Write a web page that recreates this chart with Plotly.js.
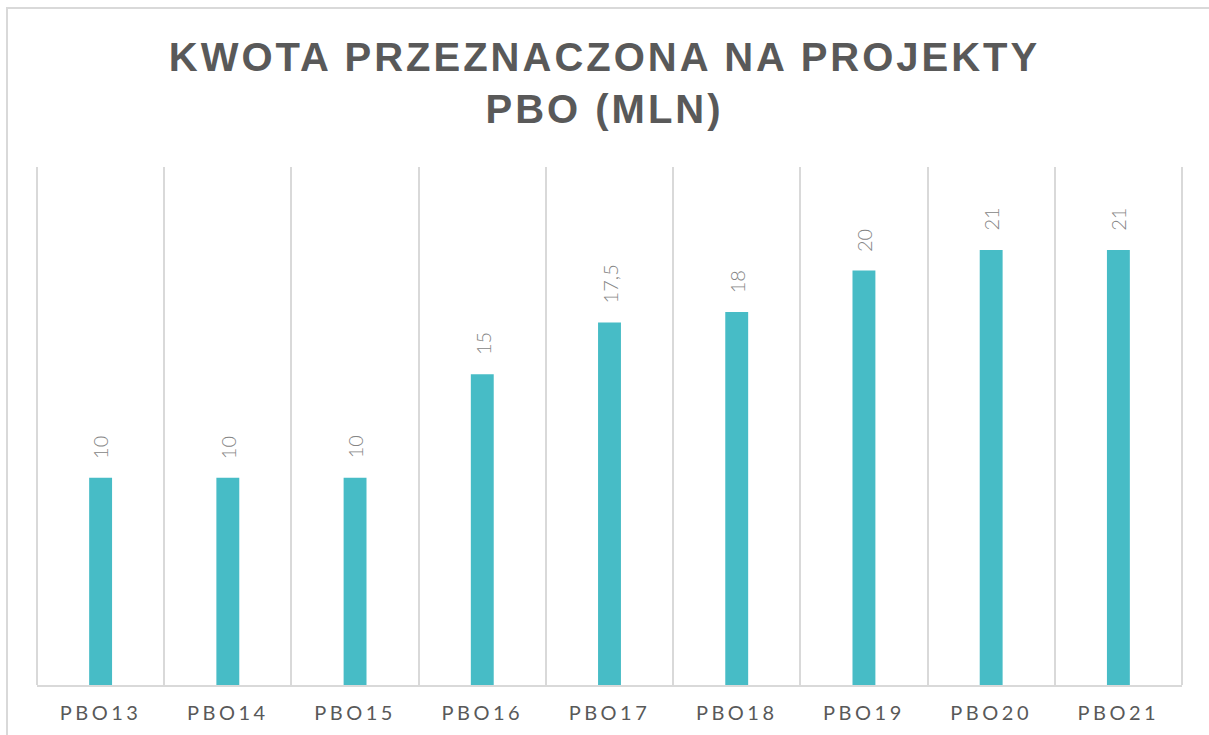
<!DOCTYPE html>
<html>
<head>
<meta charset="utf-8">
<script src="https://cdn.plot.ly/plotly-3.0.1.min.js"></script>
<style>
html, body { margin: 0; padding: 0; background: #fff; overflow: hidden; }
#frame { position: absolute; left: 6px; top: 7px; width: 1300px; height: 800px; border-left: 2px solid #d9d9d9; border-top: 2px solid #d9d9d9; }
#chart { position: absolute; left: 0; top: 0; width: 1209px; height: 735px; }
.gtitle { letter-spacing: 3px; }
.xtick text { letter-spacing: 3.5px; }
</style>
</head>
<body>
<div id="frame"></div>
<div id="chart"></div>
<script>
const categories = ["PBO13", "PBO14", "PBO15", "PBO16", "PBO17", "PBO18", "PBO19", "PBO20", "PBO21"];
const values = [10, 10, 10, 15, 17.5, 18, 20, 21, 21];
const valueLabels = values.map(v => String(v).replace('.', ','));

const trace = {
  type: 'bar',
  x: categories,
  y: values,
  width: 0.18,
  marker: { color: '#47BCC6' },
  hoverinfo: 'skip'
};

const annotations = categories.map((c, i) => ({
  x: c, y: values[i], xref: 'x', yref: 'y',
  text: valueLabels[i],
  textangle: -90,
  showarrow: false,
  xanchor: 'center', yanchor: 'bottom',
  yshift: 17,
  font: { family: 'Lato, "Open Sans", sans-serif', size: 20, color: '#858585', weight: 300 }
}));

const edgeLine = x => ({
  type: 'line', xref: 'paper', yref: 'paper',
  x0: x, x1: x, y0: 0, y1: 1,
  line: { color: '#d9d9d9', width: 2 }
});

const layout = {
  width: 1209, height: 735,
  paper_bgcolor: 'rgba(0,0,0,0)',
  plot_bgcolor: 'rgba(0,0,0,0)',
  margin: { l: 37, r: 27, t: 167, b: 50 },
  title: {
    text: 'KWOTA PRZEZNACZONA NA PROJEKTY<br>PBO (MLN)',
    x: 0.5, xanchor: 'center',
    y: 0.903, yanchor: 'middle',
    font: { family: '"Liberation Sans", Arial, sans-serif', size: 40, color: '#595959', weight: 'bold' }
  },
  xaxis: {
    type: 'category',
    tickson: 'boundaries',
    showgrid: true,
    gridcolor: '#d9d9d9',
    gridwidth: 2,
    showline: true,
    linecolor: '#d9d9d9',
    linewidth: 2,
    ticks: '',
    ticklabelstandoff: 9,
    tickfont: { family: 'Lato, "Open Sans", sans-serif', size: 20, color: '#595959' },
    fixedrange: true
  },
  yaxis: {
    range: [0, 25],
    showgrid: false,
    zeroline: false,
    showticklabels: false,
    fixedrange: true
  },
  shapes: [edgeLine(0), edgeLine(1)],
  annotations: annotations,
  showlegend: false
};

Plotly.newPlot('chart', [trace], layout, { displayModeBar: false, staticPlot: true });
</script>
</body>
</html>
